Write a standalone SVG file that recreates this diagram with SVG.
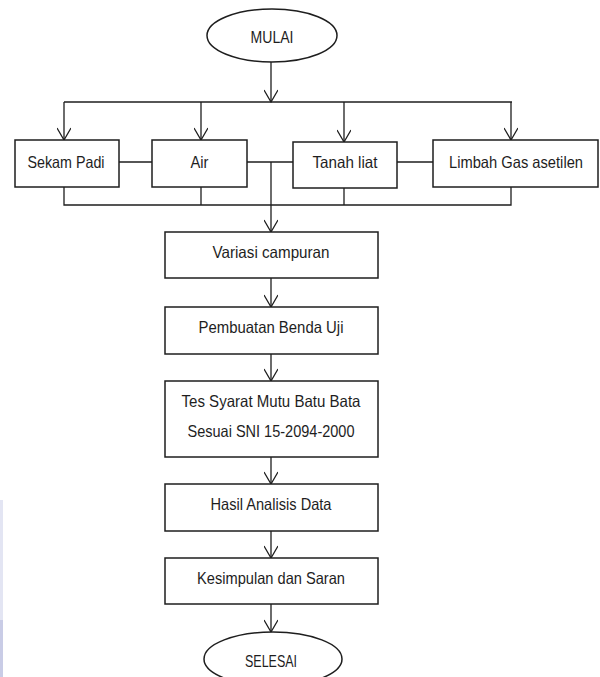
<svg xmlns="http://www.w3.org/2000/svg" width="600" height="677" viewBox="0 0 600 677">
<style>
.box{fill:#fff;stroke:#1e1e1e;stroke-width:1.5}
.ln{fill:none;stroke:#1e1e1e;stroke-width:1.3}
text{font-family:"Liberation Sans",Arial,sans-serif;font-size:16.5px;fill:#1e1e1e;text-anchor:middle}
</style>
<defs>
<marker id="v" viewBox="0 0 14 14" refX="13" refY="7" markerWidth="14" markerHeight="14" markerUnits="userSpaceOnUse" orient="auto">
<path d="M1,0 L13,7 L1,14" fill="none" stroke="#1e1e1e" stroke-width="1.3"/>
</marker>
</defs>
<rect width="600" height="677" fill="#fff"/>
<rect x="0" y="500" width="3" height="177" fill="#e3e5f3"/>
<rect x="0" y="620" width="3" height="57" fill="#c9cce6"/>
<g id="connectors">
<path class="ln" d="M271,62 V102" marker-end="url(#v)"/>
<path class="ln" d="M64,102 H512"/>
<path class="ln" d="M64,102 V140" marker-end="url(#v)"/>
<path class="ln" d="M201,102 V140" marker-end="url(#v)"/>
<path class="ln" d="M344,102 V142" marker-end="url(#v)"/>
<path class="ln" d="M511,102 V140" marker-end="url(#v)"/>
<path class="ln" d="M119,162 H152"/>
<path class="ln" d="M247,162 H293"/>
<path class="ln" d="M397,162 H433"/>
<path class="ln" d="M64,187 V205 H511 V187"/>
<path class="ln" d="M201,187 V205"/>
<path class="ln" d="M344,188 V205"/>
<path class="ln" d="M271,162 V232" marker-end="url(#v)"/>
<path class="ln" d="M271,278 V307" marker-end="url(#v)"/>
<path class="ln" d="M271,354 V381" marker-end="url(#v)"/>
<path class="ln" d="M271,457 V484" marker-end="url(#v)"/>
<path class="ln" d="M271,531 V558" marker-end="url(#v)"/>
<path class="ln" d="M271,604 V632" marker-end="url(#v)"/>
</g>
<g id="mulai">
<ellipse class="box" cx="272" cy="35.5" rx="65" ry="26.5"/>
<text x="272" y="43" textLength="43" lengthAdjust="spacingAndGlyphs">MULAI</text>
</g>
<g id="sekam">
<rect class="box" x="15" y="140" width="104" height="47"/>
<text x="66" y="167.5" textLength="77" lengthAdjust="spacingAndGlyphs">Sekam Padi</text>
</g>
<g id="air">
<rect class="box" x="152" y="140" width="95" height="47"/>
<text x="199.5" y="167.5" textLength="18" lengthAdjust="spacingAndGlyphs">Air</text>
</g>
<g id="tanah">
<rect class="box" x="293" y="142" width="104" height="46"/>
<text x="345" y="168" textLength="65" lengthAdjust="spacingAndGlyphs">Tanah liat</text>
</g>
<g id="limbah">
<rect class="box" x="433" y="140" width="165" height="47"/>
<text x="516" y="167.5" textLength="134" lengthAdjust="spacingAndGlyphs">Limbah Gas asetilen</text>
</g>
<g id="variasi">
<rect class="box" x="165" y="232" width="213" height="46"/>
<text x="271" y="257.5" textLength="117" lengthAdjust="spacingAndGlyphs">Variasi campuran</text>
</g>
<g id="pembuatan">
<rect class="box" x="165" y="307" width="213" height="47"/>
<text x="271" y="333" textLength="145" lengthAdjust="spacingAndGlyphs">Pembuatan Benda Uji</text>
</g>
<g id="tes">
<rect class="box" x="165" y="381" width="213" height="76"/>
<text x="271" y="407" textLength="179" lengthAdjust="spacingAndGlyphs">Tes Syarat Mutu Batu Bata</text>
<text x="271" y="437" textLength="167" lengthAdjust="spacingAndGlyphs">Sesuai SNI 15-2094-2000</text>
</g>
<g id="hasil">
<rect class="box" x="165" y="484" width="213" height="47"/>
<text x="271" y="510" textLength="121" lengthAdjust="spacingAndGlyphs">Hasil Analisis Data</text>
</g>
<g id="kesimpulan">
<rect class="box" x="165" y="558" width="213" height="46"/>
<text x="271" y="584" textLength="148" lengthAdjust="spacingAndGlyphs">Kesimpulan dan Saran</text>
</g>
<g id="selesai">
<ellipse class="box" cx="273" cy="659" rx="69" ry="27"/>
<text x="271" y="667" textLength="52" lengthAdjust="spacingAndGlyphs">SELESAI</text>
</g>
</svg>
